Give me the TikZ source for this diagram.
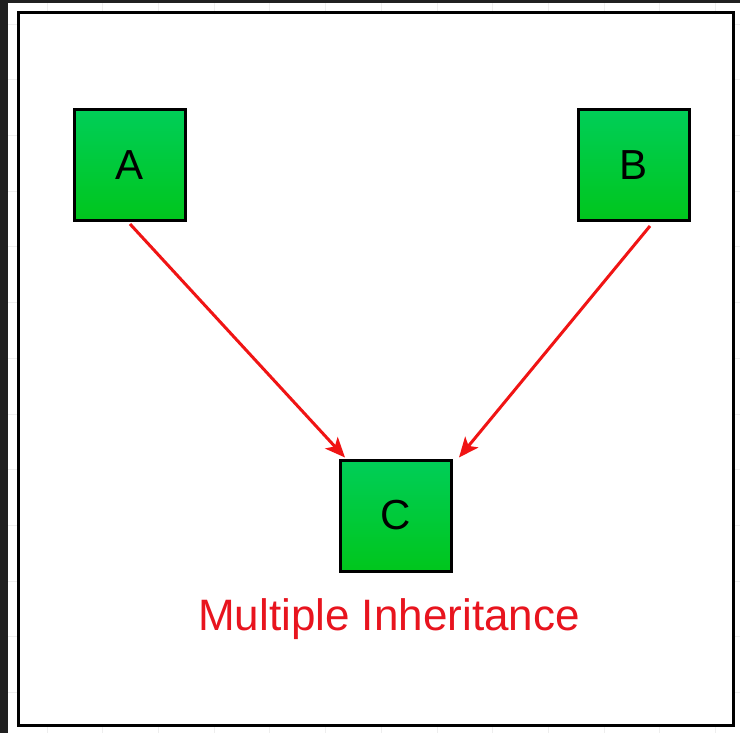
\documentclass[tikz,border=0pt]{standalone}
\usepackage{fontspec}
\setmainfont{Liberation Sans}
\usetikzlibrary{arrows.meta,calc}
\definecolor{gtop}{RGB}{0,206,88}
\definecolor{gbot}{RGB}{0,198,28}
\definecolor{arrred}{RGB}{240,20,20}
\definecolor{txtred}{RGB}{232,20,30}
\definecolor{darkstrip}{RGB}{32,32,32}
\definecolor{gridc}{RGB}{238,238,238}
\tikzset{
  classbox/.style={draw=black, line width=3pt, minimum width=111pt, minimum height=111pt,
    inner sep=0pt, top color=gtop, bottom color=gbot, font=\fontsize{42}{48}\selectfont},
  inherit/.style={draw=arrred, line width=3pt, -{Stealth[length=20pt,width=17pt,inset=5pt]}},
  frameline/.style={draw=black, line width=3pt},
}
\begin{document}
\begin{tikzpicture}[x=1pt,y=-1pt]
\useasboundingbox (0,0) rectangle (740,733);
\fill[white] (0,0) rectangle (740,733);
% faint grid behind
\foreach \i in {0,...,13} {
  \draw[gridc, line width=0.8pt] ({47+55.7*\i},0) -- ({47+55.7*\i},733);
  \draw[gridc, line width=0.8pt] (0,{24+55.7*\i}) -- (740,{24+55.7*\i});
}
\fill[darkstrip] (0,0) rectangle (8,733);
\fill[darkstrip] (0,0) rectangle (740,3);
% frame
\draw[frameline, fill=white] (18.5,12.5) rectangle (733,725);
% classes
\node[classbox] (A) at (130,165) {A};
\node[classbox] (B) at (634,165) {B};
\node[classbox] (C) at (396,515.5) {C};
\coordinate (Aout) at ($(A.south)+(0,2)$);
\coordinate (Bout) at ($(B.south)+(16,4)$);
\coordinate (Cin1) at ($(C.north west)+(6,-1)$);
\coordinate (Cin2) at ($(C.north east)+(6,-1)$);
\draw[inherit] (Aout) -- (Cin1);
\draw[inherit] (Bout) -- (Cin2);
\node[text=txtred, font=\fontsize{44}{50}\selectfont, inner sep=0pt, anchor=base] (label) at (389,630) {Multiple Inheritance};
\end{tikzpicture}
\end{document}
